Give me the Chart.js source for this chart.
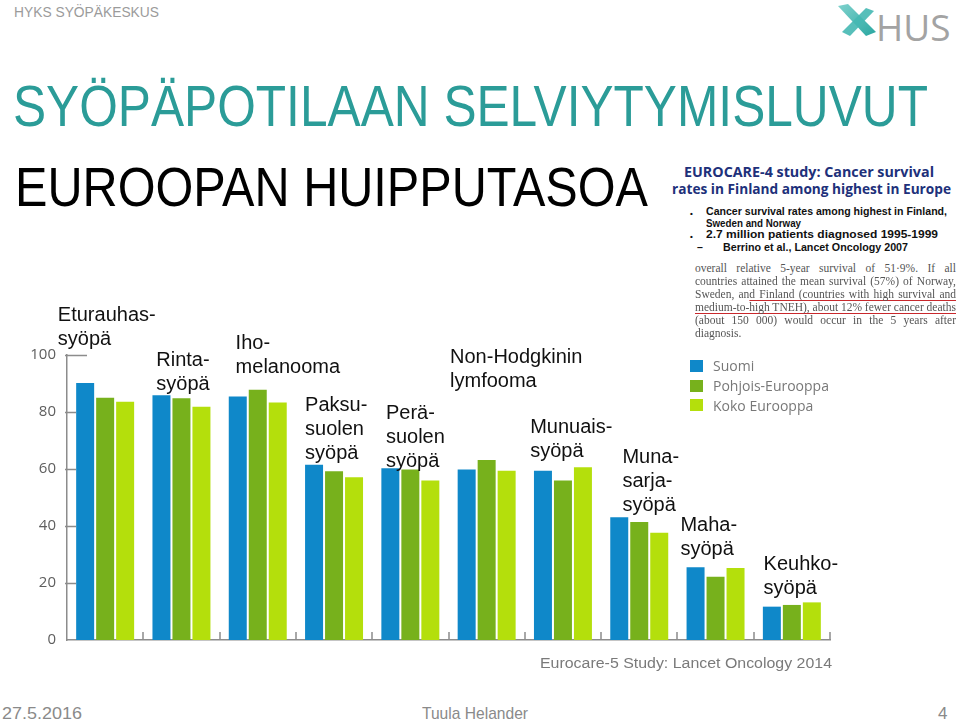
<!DOCTYPE html>
<html lang="fi">
<head>
<meta charset="utf-8">
<title>Syöpäpotilaan selviytymisluvut</title>
<script src="https://cdn.jsdelivr.net/npm/chart.js@4/dist/chart.umd.min.js"></script>
<style>
  html, body { margin: 0; padding: 0; background: #fff; }
  body { width: 959px; height: 721px; position: relative; overflow: hidden; font-family: 'Liberation Sans', Arial, sans-serif; }
  .abs { position: absolute; white-space: nowrap; }
  .fit { transform-origin: 0 0; display: inline-block; }
  #chart { position: absolute; left: 0; top: 290px; }
  #head { left: 14px; top: 4px; font-size: 15px; line-height: 15px; color: #9b9b9b; }
  #title { left: 13px; top: 77px; font-size: 58px; line-height: 58px; color: #2b9c98; }
  #sub { left: 15px; top: 160px; font-size: 55px; line-height: 55px; color: #000; }
  #hus { left: 876px; top: 8px; font-family: 'Open Sans', sans-serif; font-size: 37px; line-height: 37px; color: #a3a3a3; }
  .ec { font-family: 'Open Sans', 'Liberation Sans', sans-serif; font-weight: bold; color: #20307a; font-size: 13.5px; line-height: 14px; }
  .bl { font-family: 'Liberation Sans', Arial, sans-serif; font-weight: bold; color: #111; font-size: 10.5px; line-height: 11px; }
  .dot { font-size: 8px; }
  .pa { font-family: 'Liberation Serif', 'DejaVu Serif', serif; color: #555; font-size: 11.5px; line-height: 12px; }
  .ul { text-decoration: underline; text-decoration-color: #c8282c; text-underline-offset: 2px; }
  #legend { position: absolute; left: 690px; top: 356px; }
  .legend-item { display: flex; align-items: center; height: 19.7px; }
  .legend-color { width: 13px; height: 12px; margin-right: 10px; }
  .legend-item span { font-family: 'Open Sans', sans-serif; font-size: 14px; color: #787878; }
  .foot { font-size: 17px; line-height: 17px; color: #8a8a8a; top: 705px; }
  #src { left: 540px; top: 655px; font-size: 15.5px; line-height: 16px; color: #7a7a7a; }
</style>
</head>
<body>
<canvas id="chart" width="850" height="370"></canvas>

<div id="head" class="abs"><span class="fit" data-w="145">HYKS SYÖPÄKESKUS</span></div>
<div id="title" class="abs"><span class="fit" data-w="915">SYÖPÄPOTILAAN SELVIYTYMISLUVUT</span></div>
<div id="sub" class="abs"><span class="fit" data-w="633">EUROOPAN HUIPPUTASOA</span></div>

<svg class="abs" style="left:836px;top:2px" width="42" height="36" viewBox="0 0 42 36">
  <defs>
    <linearGradient id="tg" x1="0" y1="0" x2="1" y2="1">
      <stop offset="0" stop-color="#7fd2cd"/>
      <stop offset="1" stop-color="#2aa7a1"/>
    </linearGradient>
  </defs>
  <polygon points="2,4 12,2 40,30 30,34" fill="url(#tg)"/>
  <polygon points="6,30 30,6 38,9 14,34" fill="#45b8b2" opacity="0.9"/>
</svg>
<div id="hus" class="abs">HUS</div>

<div class="abs ec" style="left:684px;top:165px"><span class="fit" data-w="250">EUROCARE-4 study: Cancer survival</span></div>
<div class="abs ec" style="left:672px;top:182px"><span class="fit" data-w="279">rates in Finland among highest in Europe</span></div>

<div class="abs bl dot" style="left:690px;top:208px">•</div>
<div class="abs bl" style="left:706px;top:206px"><span class="fit" data-w="241">Cancer survival rates among highest in Finland,</span></div>
<div class="abs bl" style="left:706px;top:218px"><span class="fit" data-w="95">Sweden and Norway</span></div>
<div class="abs bl dot" style="left:690px;top:231px">•</div>
<div class="abs bl" style="left:706px;top:229px"><span class="fit" data-w="232">2.7 million patients diagnosed 1995-1999</span></div>
<div class="abs bl" style="left:697px;top:242px">–</div>
<div class="abs bl" style="left:723px;top:242px"><span class="fit" data-w="185">Berrino et al., Lancet Oncology 2007</span></div>

<div class="abs pa" data-j="261" style="left:695px;top:262px">overall relative 5-year survival of 51·9%. If all</div>
<div class="abs pa" data-j="261" style="left:695px;top:275px">countries attained the mean survival (57%) of Norway,</div>
<div class="abs pa" data-j="261" style="left:695px;top:288px">Sweden, an<span class="ul">d Finland (countries with high survival and</span></div>
<div class="abs pa" data-j="261" style="left:695px;top:301px"><span class="ul">medium-to-high TNEH), about 12% fewer cancer deaths</span></div>
<div class="abs pa" data-j="261" style="left:695px;top:314px">(about 150 000) would occur in the 5 years after</div>
<div class="abs pa" style="left:695px;top:327px">diagnosis.</div>

<div id="legend"></div>

<div id="src" class="abs"><span class="fit" data-w="292">Eurocare-5 Study: Lancet Oncology 2014</span></div>
<div class="abs foot" style="left:2px"><span class="fit" data-w="80">27.5.2016</span></div>
<div class="abs foot" style="left:422px"><span class="fit" data-w="106">Tuula Helander</span></div>
<div class="abs foot" style="left:938px">4</div>

<script>
// syöpätyypit (kategoriat), rivitettynä kuten kuvassa
const categories = [
  ['Eturauhas-', 'syöpä'],
  ['Rinta-', 'syöpä'],
  ['Iho-', 'melanooma'],
  ['Paksu-', 'suolen', 'syöpä'],
  ['Perä-', 'suolen', 'syöpä'],
  ['Non-Hodgkinin', 'lymfooma'],
  ['Munuais-', 'syöpä'],
  ['Muna-', 'sarja-', 'syöpä'],
  ['Maha-', 'syöpä'],
  ['Keuhko-', 'syöpä']
];

// 5 vuoden suhteellinen elossaolo (%)
const suomi   = [90.2, 85.9, 85.4, 61.5, 60.3, 59.8, 59.4, 43.1, 25.5, 11.7];
const pohjois = [85.0, 84.8, 87.8, 59.2, 59.8, 63.2, 56.0, 41.4, 22.2, 12.3];
const koko    = [83.6, 81.8, 83.3, 57.1, 56.0, 59.4, 60.6, 37.6, 25.3, 13.2];

const seriesNames = ['Suomi', 'Pohjois-Eurooppa', 'Koko Eurooppa'];
const yTicks = [0, 20, 40, 60, 80, 100];

const COLORS = ['#0f88c9', '#77b11c', '#b4df0c'];
const AXIS_COLOR = '#8c8c8c';

// kategoriatekstien paikat: [x-siirto kategorian leveydestä, 1. rivin perusviiva arvona]
const LABEL_ANCHORS = [
  [-0.12, 112.0], [0.17, 96.2], [0.21, 102.0], [0.12, 80.3], [0.18, 77.6],
  [0.02, 97.2], [0.07, 72.8], [0.28, 62.1], [0.04, 38.3], [0.13, 24.5]
];

// akselin pienet väliviivat (y: sisäänpäin, x: ylöspäin)
const axisMarks = {
  id: 'axisMarks',
  afterDraw(chart) {
    const { ctx, chartArea: a, scales: { x, y } } = chart;
    ctx.save();
    ctx.strokeStyle = AXIS_COLOR;
    ctx.lineWidth = 1.5;
    ctx.beginPath();
    yTicks.forEach(v => {
      if (v === 0) return;
      const py = Math.round(y.getPixelForValue(v)) + 0.5;
      ctx.moveTo(a.left - 2, py);
      ctx.lineTo(a.left + (v === 100 ? 20 : 9), py);
    });
    const cw = (a.right - a.left) / categories.length;
    for (let i = 0; i < categories.length; i++) {
      const px = Math.round(x.getPixelForValue(i) + cw / 2);
      ctx.moveTo(px, a.bottom);
      ctx.lineTo(px, a.bottom - 8);
    }
    ctx.stroke();
    ctx.restore();
  }
};

// kategorianimet pylväsryhmien yläpuolelle
const groupLabels = {
  id: 'groupLabels',
  afterDatasetsDraw(chart) {
    const { ctx, chartArea: a, scales: { x, y } } = chart;
    const cw = (a.right - a.left) / categories.length;
    ctx.save();
    ctx.font = '20px "Liberation Sans", Arial, sans-serif';
    ctx.fillStyle = '#111';
    ctx.textAlign = 'left';
    ctx.textBaseline = 'alphabetic';
    categories.forEach((lines, i) => {
      const [dx, v] = LABEL_ANCHORS[i];
      const px = x.getPixelForValue(i) - cw / 2 + dx * cw;
      const py = y.getPixelForValue(v);
      lines.forEach((t, j) => ctx.fillText(t, px, py + j * 24));
    });
    ctx.restore();
  }
};

const chart = new Chart(document.getElementById('chart'), {
  type: 'bar',
  data: {
    labels: categories,
    datasets: [suomi, pohjois, koko].map((d, i) => ({
      label: seriesNames[i],
      data: d,
      backgroundColor: COLORS[i],
      borderWidth: 0,
      categoryPercentage: 0.786,
      barPercentage: 0.9
    }))
  },
  options: {
    responsive: false,
    animation: false,
    devicePixelRatio: 1,
    layout: { padding: { top: 65, right: 20, left: 0, bottom: 0 } },
    plugins: { legend: { display: false }, tooltip: { enabled: false } },
    scales: {
      x: {
        ticks: { display: false },
        grid: { display: false, drawTicks: false },
        border: { display: true, color: AXIS_COLOR, width: 1.5 },
        afterFit: s => { s.height = 15; }
      },
      y: {
        min: 0,
        max: 100,
        afterBuildTicks: s => { s.ticks = yTicks.map(v => ({ value: v })); },
        ticks: {
          color: '#5e5e5e',
          padding: 11,
          font: { family: "'Open Sans', sans-serif", size: 15 }
        },
        grid: { display: false, drawTicks: false },
        border: { display: true, color: AXIS_COLOR, width: 1.5 },
        afterFit: s => { s.width = 67; }
      }
    }
  },
  plugins: [axisMarks, groupLabels]
});

// selite
const legendContainer = document.getElementById('legend');
chart.data.datasets.forEach(ds => {
  const item = document.createElement('div');
  item.className = 'legend-item';
  const box = document.createElement('div');
  box.className = 'legend-color';
  box.style.backgroundColor = ds.backgroundColor;
  const label = document.createElement('span');
  label.textContent = ds.label;
  item.appendChild(box);
  item.appendChild(label);
  legendContainer.appendChild(item);
});

// tekstien leveydet kuvan mukaisiksi
document.querySelectorAll('.fit').forEach(el => {
  const w = el.getBoundingClientRect().width;
  el.style.transform = `scaleX(${el.dataset.w / w})`;
});
document.querySelectorAll('[data-j]').forEach(el => {
  const w = el.getBoundingClientRect().width;
  const spaces = (el.textContent.match(/ /g) || []).length;
  if (spaces) el.style.wordSpacing = ((el.dataset.j - w) / spaces) + 'px';
});
</script>
</body>
</html>
